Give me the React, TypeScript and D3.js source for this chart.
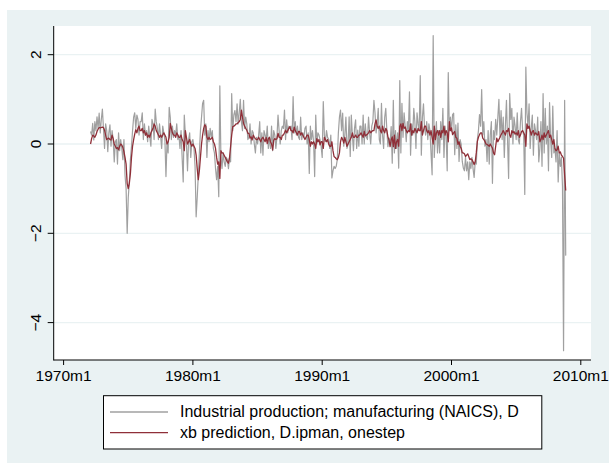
import * as d3 from 'd3';
import { useEffect, useRef } from 'react';

// months are counted from 1970m1; both series start at 1972m2
const startMonth = 25;

// D.ipman, one row per year (1972 starts in February, 2008 ends in November)
const ipmanDiff: number[] = [
    /* 1972 */ 0.28, 0.2, 0.46, 0.09, 0.5, 0.3, 0.61, 0.35, 0.69, 0.25, 0.55,
    /* 1973 */ 0.78, 0.35, -0.1, 0.45, 0.3, -0.17, 0.25, 0.43, -0.05, 0.3, 0.1, -0.4,
    /* 1974 */ 0.05, 0.1, -0.45, 0.25, -0.15, 0.1, -0.1, -0.35, 0.1, -0.7, -1.0, -2.0,
    /* 1975 */ -1.2, -0.85, -0.35, -0.05, 0.3, 0.6, 0.7, 0.35, 0.65, 0.55, 0.2, 0.5,
    /* 1976 */ 0.5, 0.7, 0.1, 0.45, 0.2, 0.3, 0.05, 0.4, 0.15, -0.05, 0.55, 0.45,
    /* 1977 */ 0.1, 0.78, 0.5, 0.35, 0.1, 0.45, 0.2, -0.1, 0.4, 0.25, 0.1, -0.73,
    /* 1978 */ 0.05, -0.2, 0.82, 0.6, 0.1, 0.4, 0.15, 0.3, 0.2, 0.45, 0.1, 0.2,
    /* 1979 */ -0.1, 0.3, -0.3, -0.85, 0.65, 0.2, 0.0, -0.6, 0.1, 0.25, -0.3, 0.05,
    /* 1980 */ 0.1, -0.1, -0.5, -1.63, -1.2, -0.7, -0.2, 0.3, 0.6, 0.91, 0.98, 0.2,
    /* 1981 */ 0.45, -0.3, 0.3, 0.05, 0.35, 0.15, 0.3, -0.1, -0.2, -0.55, -0.8, -0.5,
    /* 1982 */ -1.18, 1.3, -0.3, -0.55, -0.2, -0.4, -0.5, -0.3, -0.35, -0.55, -0.3, -0.4,
    /* 1983 */ 1.13, 0.3, 0.65, 0.75, 0.5, 0.9, 0.45, 0.7, 1.0, 0.5, 0.3, 0.98,
    /* 1984 */ 0.35, 0.6, 0.45, 0.1, 0.15, 0.45, 0.0, 0.3, 0.25, 0.0, -0.2, 0.15,
    /* 1985 */ 0.0, 0.2, 0.5, -0.2, 0.25, -0.25, 0.3, 0.2, 0.1, 0.4, -0.1, 0.15,
    /* 1986 */ -0.1, 0.4, -0.15, 0.3, 0.2, -0.1, 0.15, 0.65, 0.3, 0.0, 0.3, 0.4,
    /* 1987 */ 0.35, 0.76, 0.1, 0.54, 0.25, 0.4, 0.35, 0.4, 0.1, 1.06, 0.25, 0.5,
    /* 1988 */ 0.2, 0.4, 0.15, 0.1, 0.6, 0.1, 0.25, 0.15, 0.35, 0.4, 0.0, 0.25,
    /* 1989 */ -0.66, 0.4, 0.1, 0.3, 0.05, -0.73, 0.65, 0.0, 0.25, 0.2, 0.1, -0.05,
    /* 1990 */ -0.3, 0.95, 0.2, 0.05, 0.3, 0.15, 0.1, -0.1, 0.2, -0.76, -0.6, -0.5,
    /* 1991 */ -0.55, -0.5, -0.35, 0.25, 0.6, 0.76, 0.3, 0.69, -0.05, 0.2, 0.6, -0.1,
    /* 1992 */ 0.0, 0.61, -0.28, 0.65, 0.2, -0.15, 0.35, 0.54, -0.1, 0.31, -0.05, 0.4,
    /* 1993 */ 0.4, 0.0, 0.65, 0.0, 0.45, 0.15, 0.1, 0.6, 0.25, 0.0, 0.4, 0.5,
    /* 1994 */ 0.98, 0.7, 0.25, 0.45, 0.8, 0.1, 0.0, 0.91, 0.2, -0.1, 0.6, 0.8,
    /* 1995 */ 0.3, -0.06, 0.13, 0.0, 0.39, -0.43, 0.98, -0.2, 0.3, -0.1, 0.25, -0.54,
    /* 1996 */ 1.42, -0.2, 0.91, 0.15, 0.7, 0.4, 0.05, 0.5, 0.3, 1.17, -0.25, 0.45,
    /* 1997 */ 0.2, 0.8, 0.5, -0.1, 0.7, 0.45, 0.3, 1.53, -0.25, 0.6, 0.9, 0.35,
    /* 1998 */ 0.2, 0.5, 0.1, 0.45, 0.3, -0.2, -0.69, 2.43, -0.3, 0.2, 0.5, -0.2,
    /* 1999 */ 0.3, -0.2, 0.5, 0.1, 0.8, -0.3, 0.4, 0.2, -0.6, 1.6, 0.3, 0.6,
    /* 2000 */ 0.28, 0.66, 0.69, -0.24, 0.43, -0.1, 0.47, -0.39, 0.1, -0.01, -0.39, -0.54,
    /* 2001 */ -0.6, -0.3, -0.6, -0.4, -0.8, -0.4, -0.55, -0.3, -0.55, -0.75, -0.4, -0.45,
    /* 2002 */ 0.1, 0.3, 0.66, 0.4, 1.22, 0.2, 0.5, -0.05, 0.1, -0.39, 0.3, -0.45,
    /* 2003 */ 0.2, 0.5, -0.88, 0.3, 0.1, 0.55, 0.2, 0.6, 1.0, 0.15, 0.75, 0.1,
    /* 2004 */ 0.6, -0.3, 0.4, 0.98, 0.1, -0.77, 1.13, 0.55, 0.8, 0.0, 0.6, 0.4,
    /* 2005 */ 0.1, 0.7, 0.1, 0.0, 0.5, 0.8, 0.3, 0.2, -1.13, 1.72, 0.7, 0.4,
    /* 2006 */ 0.9, -0.1, 0.35, 0.65, -0.25, 0.45, 0.3, 0.1, 0.6, -0.4, -0.1, 0.5,
    /* 2007 */ -0.5, 1.13, -0.2, 0.8, 0.0, 0.4, -0.6, 0.93, 0.1, -0.3, 0.85, -0.2,
    /* 2008 */ -0.1, -0.4, 0.3, -0.85, -0.2, -0.5, -0.3, -0.95, -4.63, 0.98, -2.5,
];

// one-step xb prediction, same months
const xbOnestep: number[] = [
    /* 1972 */ 0.0, 0.12, 0.2, 0.18, 0.15, 0.2, 0.28, 0.33, 0.37, 0.36, 0.37,
    /* 1973 */ 0.38, 0.37, 0.31, 0.2, 0.1, 0.12, 0.13, 0.1, 0.09, 0.2, 0.12, 0.0,
    /* 1974 */ -0.05, -0.1, -0.08, -0.13, -0.05, 0.0, -0.02, -0.08, -0.17, -0.3, -0.45, -0.88,
    /* 1975 */ -1.0, -0.88, -0.66, -0.3, -0.05, 0.1, 0.22, 0.32, 0.25, 0.35, 0.4, 0.3,
    /* 1976 */ 0.3, 0.35, 0.25, 0.3, 0.2, 0.25, 0.15, 0.2, 0.15, 0.25, 0.3, 0.35,
    /* 1977 */ 0.45, 0.4, 0.3, 0.25, 0.2, 0.15, 0.2, 0.15, 0.2, 0.25, 0.2, 0.15,
    /* 1978 */ 0.0, 0.05, 0.15, 0.46, 0.35, 0.25, 0.2, 0.2, 0.15, 0.25, 0.2, 0.15,
    /* 1979 */ 0.15, 0.2, 0.1, 0.05, -0.15, 0.3, 0.15, 0.0, 0.05, 0.1, 0.0, -0.05,
    /* 1980 */ 0.0, -0.05, -0.1, -0.25, -0.55, -0.8, -0.6, -0.3, 0.0, 0.2, 0.35, 0.43,
    /* 1981 */ 0.4, 0.15, 0.1, 0.15, 0.1, 0.12, 0.15, 0.05, 0.0, -0.1, -0.3, -0.45,
    /* 1982 */ -0.4, -0.77, -0.15, -0.2, -0.2, -0.25, -0.3, -0.35, -0.4, -0.43, -0.3, -0.05,
    /* 1983 */ 0.2, 0.39, 0.4, 0.42, 0.45, 0.45, 0.48, 0.5, 0.55, 0.76, 0.6, 0.46,
    /* 1984 */ 0.4, 0.35, 0.31, 0.24, 0.24, 0.13, 0.16, 0.09, 0.2, 0.15, 0.12, 0.1,
    /* 1985 */ 0.1, 0.15, 0.1, 0.05, 0.12, 0.15, 0.1, 0.05, 0.15, 0.01, 0.12, 0.15,
    /* 1986 */ 0.05, 0.0, -0.13, 0.08, 0.12, 0.1, 0.12, 0.24, 0.15, 0.15, 0.1, 0.2,
    /* 1987 */ 0.2, 0.25, 0.31, 0.25, 0.3, 0.35, 0.39, 0.3, 0.3, 0.25, 0.38, 0.3,
    /* 1988 */ 0.25, 0.2, 0.28, 0.28, 0.2, 0.25, 0.2, 0.15, 0.1, 0.15, 0.2, 0.2,
    /* 1989 */ 0.1, -0.05, 0.05, 0.0, 0.05, 0.0, -0.1, 0.12, 0.05, 0.1, -0.02, 0.05,
    /* 1990 */ 0.05, -0.1, 0.15, 0.1, 0.05, 0.1, 0.0, -0.05, -0.05, 0.05, -0.15, -0.28,
    /* 1991 */ -0.3, -0.33, -0.35, -0.3, -0.2, 0.05, 0.15, 0.1, 0.02, 0.15, 0.05, -0.05,
    /* 1992 */ 0.0, 0.05, 0.1, 0.15, 0.25, 0.15, 0.15, 0.2, 0.15, 0.15, 0.2, 0.2,
    /* 1993 */ 0.25, 0.2, 0.15, 0.28, 0.18, 0.2, 0.22, 0.25, 0.3, 0.25, 0.28, 0.3,
    /* 1994 */ 0.3, 0.45, 0.54, 0.4, 0.35, 0.4, 0.3, 0.25, 0.4, 0.3, 0.25, 0.35,
    /* 1995 */ 0.3, 0.16, 0.09, -0.06, 0.09, 0.16, -0.06, 0.2, -0.1, 0.05, 0.1, -0.05,
    /* 1996 */ 0.39, 0.45, 0.3, 0.46, 0.35, 0.38, 0.3, 0.25, 0.3, 0.28, 0.45, 0.2,
    /* 1997 */ 0.3, 0.25, 0.35, 0.3, 0.25, 0.35, 0.3, 0.3, 0.5, 0.2, 0.3, 0.4,
    /* 1998 */ 0.4, 0.3, 0.25, 0.3, 0.2, 0.3, 0.15, 0.0, 0.4, 0.1, 0.25, 0.3,
    /* 1999 */ 0.2, 0.3, 0.15, 0.3, 0.25, 0.4, 0.2, 0.3, 0.25, 0.05, 0.5, 0.3,
    /* 2000 */ 0.36, 0.21, 0.25, 0.28, 0.15, 0.13, -0.01, 0.05, -0.05, -0.1, -0.2, -0.2,
    /* 2001 */ -0.22, -0.28, -0.25, -0.22, -0.28, -0.35, -0.33, -0.35, -0.4, -0.46, -0.4, -0.2,
    /* 2002 */ 0.06, 0.15, 0.21, 0.25, 0.25, 0.13, 0.1, 0.06, 0.0, -0.01, -0.03, -0.05,
    /* 2003 */ 0.0, -0.05, -0.09, -0.2, -0.24, -0.05, 0.13, 0.05, 0.1, 0.15, 0.21, 0.25,
    /* 2004 */ 0.3, 0.25, 0.2, 0.3, 0.28, 0.35, 0.2, 0.15, 0.3, 0.25, 0.28, 0.22,
    /* 2005 */ 0.25, 0.2, 0.3, 0.15, 0.2, 0.28, 0.3, 0.25, 0.2, -0.05, 0.45, 0.35,
    /* 2006 */ 0.4, 0.3, 0.2, 0.28, 0.3, 0.2, 0.25, 0.22, 0.2, 0.28, 0.05, 0.1,
    /* 2007 */ 0.2, 0.1, 0.25, 0.15, 0.2, 0.25, 0.3, 0.15, 0.2, 0.1, 0.0, 0.1,
    /* 2008 */ -0.1, -0.15, -0.13, -0.05, -0.2, -0.18, -0.25, -0.28, -0.32, -0.7, -1.04,
];

const xTickMonths = [0, 120, 240, 360, 480];
const xTickLabels = ['1970m1', '1980m1', '1990m1', '2000m1', '2010m1'];
const yTicks = [-4, -2, 0, 2];
const seriesLabels = [
    'Industrial production; manufacturing (NAICS), D',
    'xb prediction, D.ipman, onestep',
];

interface Point {
    month: number;
    value: number;
}

const App = () => {
    const ref = useRef<SVGSVGElement>(null);

    useEffect(() => {
        document.body.style.margin = '0';
        const width = 609;
        const height = 463;
        const plot = { left: 53.7, right: 591, top: 26, bottom: 360 };

        const svg = d3.select(ref.current);
        svg.selectAll('*').remove();

        const x = d3.scaleLinear().domain([0, 480]).range([63.6, 580.8]);
        const y = d3.scaleLinear().domain([-4, 2]).range([322.6, 54.7]);

        const toPoints = (vals: number[]): Point[] =>
            vals.map((v, i) => ({ month: startMonth + i, value: v }));

        const font = "'Liberation Sans', Arial, Helvetica, sans-serif";

        // graph region + plot region
        svg.append('rect').attr('x', 7).attr('y', 10)
            .attr('width', width - 7).attr('height', height - 10)
            .attr('fill', '#eaf2f3');
        svg.append('rect').attr('x', plot.left).attr('y', plot.top)
            .attr('width', plot.right - plot.left).attr('height', plot.bottom - plot.top)
            .attr('fill', '#ffffff');

        // gridlines
        svg.append('g').selectAll('line').data(yTicks).join('line')
            .attr('x1', plot.left).attr('x2', plot.right)
            .attr('y1', d => y(d)).attr('y2', d => y(d))
            .attr('stroke', '#eaf2f3').attr('stroke-width', 1.3);

        // series
        const line = d3.line<Point>()
            .x(d => x(d.month))
            .y(d => y(d.value));

        svg.append('path')
            .datum(toPoints(ipmanDiff))
            .attr('fill', 'none')
            .attr('stroke', '#a0a0a0')
            .attr('stroke-width', 1.2)
            .attr('stroke-linejoin', 'round')
            .attr('d', line);

        svg.append('path')
            .datum(toPoints(xbOnestep))
            .attr('fill', 'none')
            .attr('stroke', '#8f2f38')
            .attr('stroke-width', 1.3)
            .attr('stroke-linejoin', 'round')
            .attr('d', line);

        // axes
        svg.append('line').attr('x1', plot.left).attr('x2', plot.left)
            .attr('y1', plot.top).attr('y2', plot.bottom + 0.5)
            .attr('stroke', '#000').attr('stroke-width', 1);
        svg.append('line').attr('x1', plot.left).attr('x2', plot.right)
            .attr('y1', plot.bottom).attr('y2', plot.bottom)
            .attr('stroke', '#000').attr('stroke-width', 1);

        const fmt = d3.format('d');
        const yAxis = svg.append('g');
        yAxis.selectAll('line').data(yTicks).join('line')
            .attr('x1', plot.left - 6).attr('x2', plot.left)
            .attr('y1', d => y(d)).attr('y2', d => y(d))
            .attr('stroke', '#000');
        yAxis.selectAll('text').data(yTicks).join('text')
            .attr('transform', d => `translate(41,${y(d)}) rotate(-90)`)
            .attr('text-anchor', 'middle')
            .attr('font-family', font)
            .attr('font-size', 15.5)
            .attr('fill', '#000')
            .text(d => fmt(d));

        const xAxis = svg.append('g');
        xAxis.selectAll('line').data(xTickMonths).join('line')
            .attr('x1', d => x(d)).attr('x2', d => x(d))
            .attr('y1', plot.bottom).attr('y2', plot.bottom + 5)
            .attr('stroke', '#000');
        xAxis.selectAll('text').data(xTickMonths).join('text')
            .attr('x', d => x(d)).attr('y', 380.7)
            .attr('text-anchor', 'middle')
            .attr('font-family', font)
            .attr('font-size', 15.5)
            .attr('fill', '#000')
            .text((_, i) => xTickLabels[i]);

        // legend
        const legend = svg.append('g');
        legend.append('rect').attr('x', 103.5).attr('y', 395.7)
            .attr('width', 438.3).attr('height', 53.3)
            .attr('fill', '#fff').attr('stroke', '#000').attr('stroke-width', 1);
        const colors = ['#a0a0a0', '#8f2f38'];
        seriesLabels.forEach((label, i) => {
            const ly = 412 + i * 20.7;
            legend.append('line').attr('x1', 110).attr('x2', 168)
                .attr('y1', ly).attr('y2', ly)
                .attr('stroke', colors[i]).attr('stroke-width', 1.3);
            legend.append('text').attr('x', 180).attr('y', ly + 5.4)
                .attr('font-family', font).attr('font-size', 16)
                .attr('fill', '#000')
                .text(label);
        });
    }, []);

    return <svg ref={ref} width={609} height={463} style={{ display: 'block' }} />;
};

export default App;
